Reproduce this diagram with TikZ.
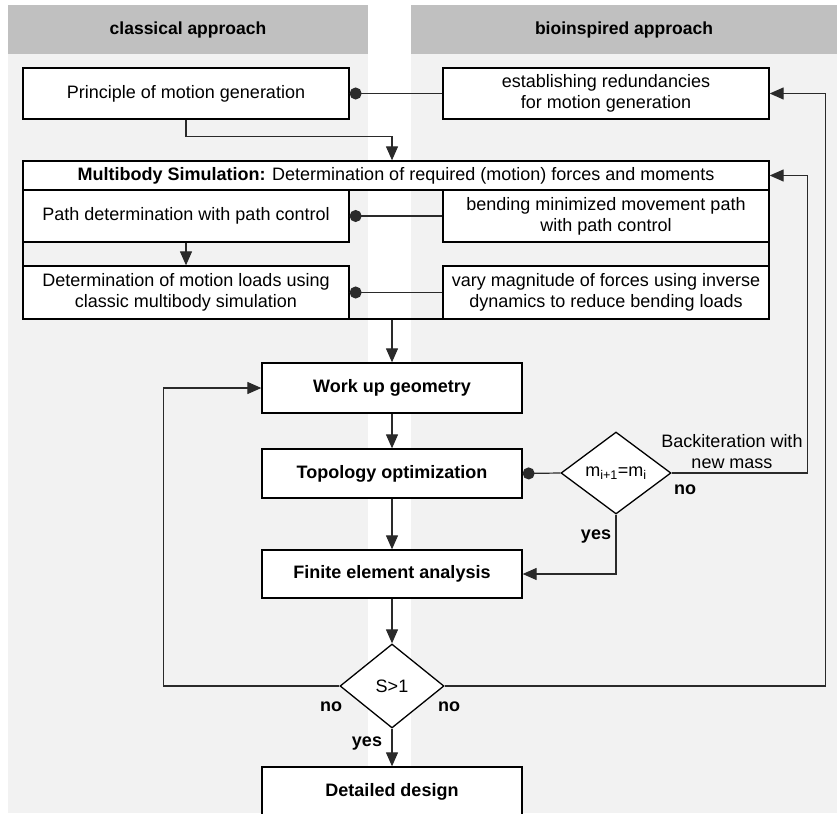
\documentclass[tikz,border=0pt]{standalone}
\usepackage{fontspec}
\setmainfont{Liberation Sans}
\usetikzlibrary{arrows.meta,shapes.geometric,calc}
\definecolor{hdr}{HTML}{C0C0C0}
\definecolor{pnl}{HTML}{F2F2F2}
\definecolor{ln}{HTML}{2A2A2A}
\begin{document}
\begin{tikzpicture}[x=1pt,y=-1pt,
  txt/.style={font=\fontsize{18}{21}\selectfont, align=center, inner sep=0pt},
  box/.style={txt, draw=black, line width=1.3pt, fill=white, rectangle},
  bbox/.style={box, font=\fontsize{18}{21}\selectfont\bfseries},
  dia/.style={txt, draw=black, line width=1.3pt, fill=white, diamond},
  hdrtxt/.style={font=\fontsize{17.5}{21}\selectfont\bfseries, inner sep=0pt},
  lbl/.style={txt},
  blbl/.style={txt, font=\fontsize{18}{21}\selectfont\bfseries},
  conn/.style={draw=ln, line width=1.2pt},
  arr/.style={conn, -{Triangle[length=14pt,width=12pt]}},
  dotc/.style={conn, {Circle[length=12pt]}-}
]
\useasboundingbox (0,0) rectangle (837,813);
\clip (0,0) rectangle (837,813);
% panels
\fill[pnl] (8,54) rectangle (368,813);
\fill[pnl] (411,54) rectangle (837,813);
\fill[hdr] (8,5) rectangle (368,54);
\fill[hdr] (411,5) rectangle (837,54);
\node[hdrtxt] (h1) at (188,30) {classical approach};
\node[hdrtxt] (h2) at (624,30) {bioinspired approach};
% top boxes
\node[box, minimum width=326, minimum height=51] (P1) at (186,93.5) {Principle of motion generation};
\node[box, minimum width=326, minimum height=51] (B1) at (606,93.5) {establishing redundancies\\for motion generation};
% multibody frame
\node[draw=black, line width=1.3pt, minimum width=746, minimum height=158, inner sep=0pt] (F) at (396,240) {};
\node[box, minimum width=746, minimum height=29] (MBS) at (396,175.5) {\textbf{Multibody Simulation:} Determination of required (motion) forces and moments};
\node[box, minimum width=326, minimum height=52] (PL) at (186,216) {Path determination with path control};
\node[box, minimum width=326, minimum height=52] (BR) at (606,216) {bending minimized movement path\\with path control};
\node[box, minimum width=326, minimum height=53] (LL) at (186,292.5) {Determination of motion loads using\\classic multibody simulation};
\node[box, minimum width=326, minimum height=53] (VR) at (606,292.5) {vary magnitude of forces using inverse\\dynamics to reduce bending loads};
% main column
\node[bbox, minimum width=260, minimum height=50] (WUG) at (392,388) {Work up geometry};
\node[bbox, minimum width=260, minimum height=49] (TOP) at (392,473.5) {Topology optimization};
\node[bbox, minimum width=260, minimum height=48] (FEA) at (392,574) {Finite element analysis};
\node[dia, minimum width=104, minimum height=84] (S) at (392,686) {S>1};
\node[dia, minimum width=110, minimum height=82] (M) at (616,473) {m\textsubscript{i+1}=m\textsubscript{i}};
\node[bbox, minimum width=260, minimum height=50] (DD) at (392,792) {Detailed design};
% connectors
\draw[arr] (P1.south) -- ++(0,17) -| (F.north -| WUG.north);
\draw[dotc] (P1.east) -- (B1.west);
\draw[dotc] (PL.east) -- (BR.west);
\draw[dotc] (LL.east) -- (VR.west);
\draw[arr] (PL.south) -- (LL.north);
\draw[arr] (F.south -| WUG.north) -- (WUG.north);
\draw[arr] (WUG.south) -- (TOP.north);
\draw[arr] (TOP.south) -- (FEA.north);
\draw[arr] (FEA.south) -- (S.north);
\draw[arr] (S.south) -- (DD.north);
\draw[arr] (S.west) -- ++(-176,0) |- (WUG.west);
\draw[arr] (S.east) -- ++(381,0) |- (B1.east);
\draw[dotc] (TOP.east) -- (M.west);
\draw[arr] (M.east) -- ++(136,0) |- (MBS.east);
\draw[arr] (M.south) |- (FEA.east);
% labels
\node[blbl] (no1) at (331,707) {no};
\node[blbl] (no2) at (449,707) {no};
\node[blbl] (yes1) at (367,744) {yes};
\node[lbl] (bk) at (732,451.5) {Backiteration with\\new mass};
\node[blbl] (no3) at (685,490) {no};
\node[blbl] (yes2) at (596,537) {yes};
\end{tikzpicture}
\end{document}
